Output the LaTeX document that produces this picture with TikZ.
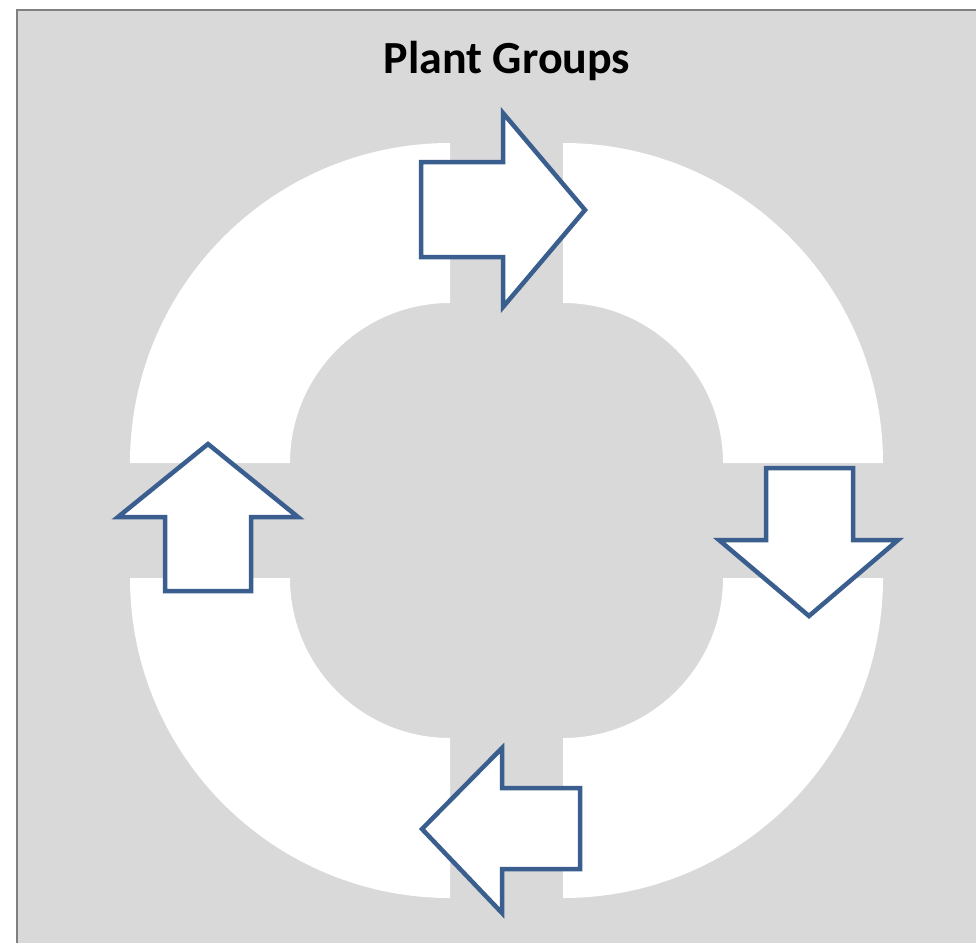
\documentclass[tikz,border=0pt]{standalone}
\usepackage{fontspec}
\setmainfont{Carlito}
\usetikzlibrary{calc}
\definecolor{panelgray}{HTML}{D9D9D9}
\definecolor{framegray}{HTML}{808080}
\definecolor{arrowblue}{HTML}{3A5F8E}

\begin{document}
\begin{tikzpicture}[x=1pt, y=-1pt,
    segment/.style={fill=white},
    cyclearrow/.style={draw=arrowblue, fill=white, line width=4.5pt, line join=miter}]
    \useasboundingbox (0, 0) rectangle (976, 943);
    \fill[panelgray] (17, 10) rectangle (976, 943);
    \draw[framegray, line width=2pt] (17, 943) -- (17, 10) -- (976, 10);

    \node[anchor=base, font=\fontsize{46}{54}\selectfont\bfseries] (title) at (507, 73) {Plant Groups};

    % four quarter segments of the ring
    \foreach \cx/\cy/\a in {450/463/180, 563/463/270, 563/578/0, 450/578/90} {
        \fill[segment] (\cx, \cy) ++(\a:320) arc[start angle=\a, delta angle=90, radius=320]
            -- ($(\cx, \cy) + (\a+90:160)$) arc[start angle=\a+90, delta angle=-90, radius=160] -- cycle;
    }

    % arrows between the segments
    \draw[cyclearrow] (421, 162) -- (503, 162) -- (503, 113) -- (585, 210)
        -- (503, 307) -- (503, 257) -- (421, 257) -- cycle;
    \draw[cyclearrow] (766, 468) -- (853, 468) -- (853, 540) -- (898, 540)
        -- (809, 616) -- (719, 540) -- (766, 540) -- cycle;
    \draw[cyclearrow] (580, 788) -- (502, 788) -- (502, 748) -- (422, 829)
        -- (502, 913) -- (502, 869) -- (580, 869) -- cycle;
    \draw[cyclearrow] (165, 591) -- (165, 517) -- (118, 517) -- (208, 444)
        -- (298, 517) -- (251, 517) -- (251, 591) -- cycle;
\end{tikzpicture}
\end{document}
